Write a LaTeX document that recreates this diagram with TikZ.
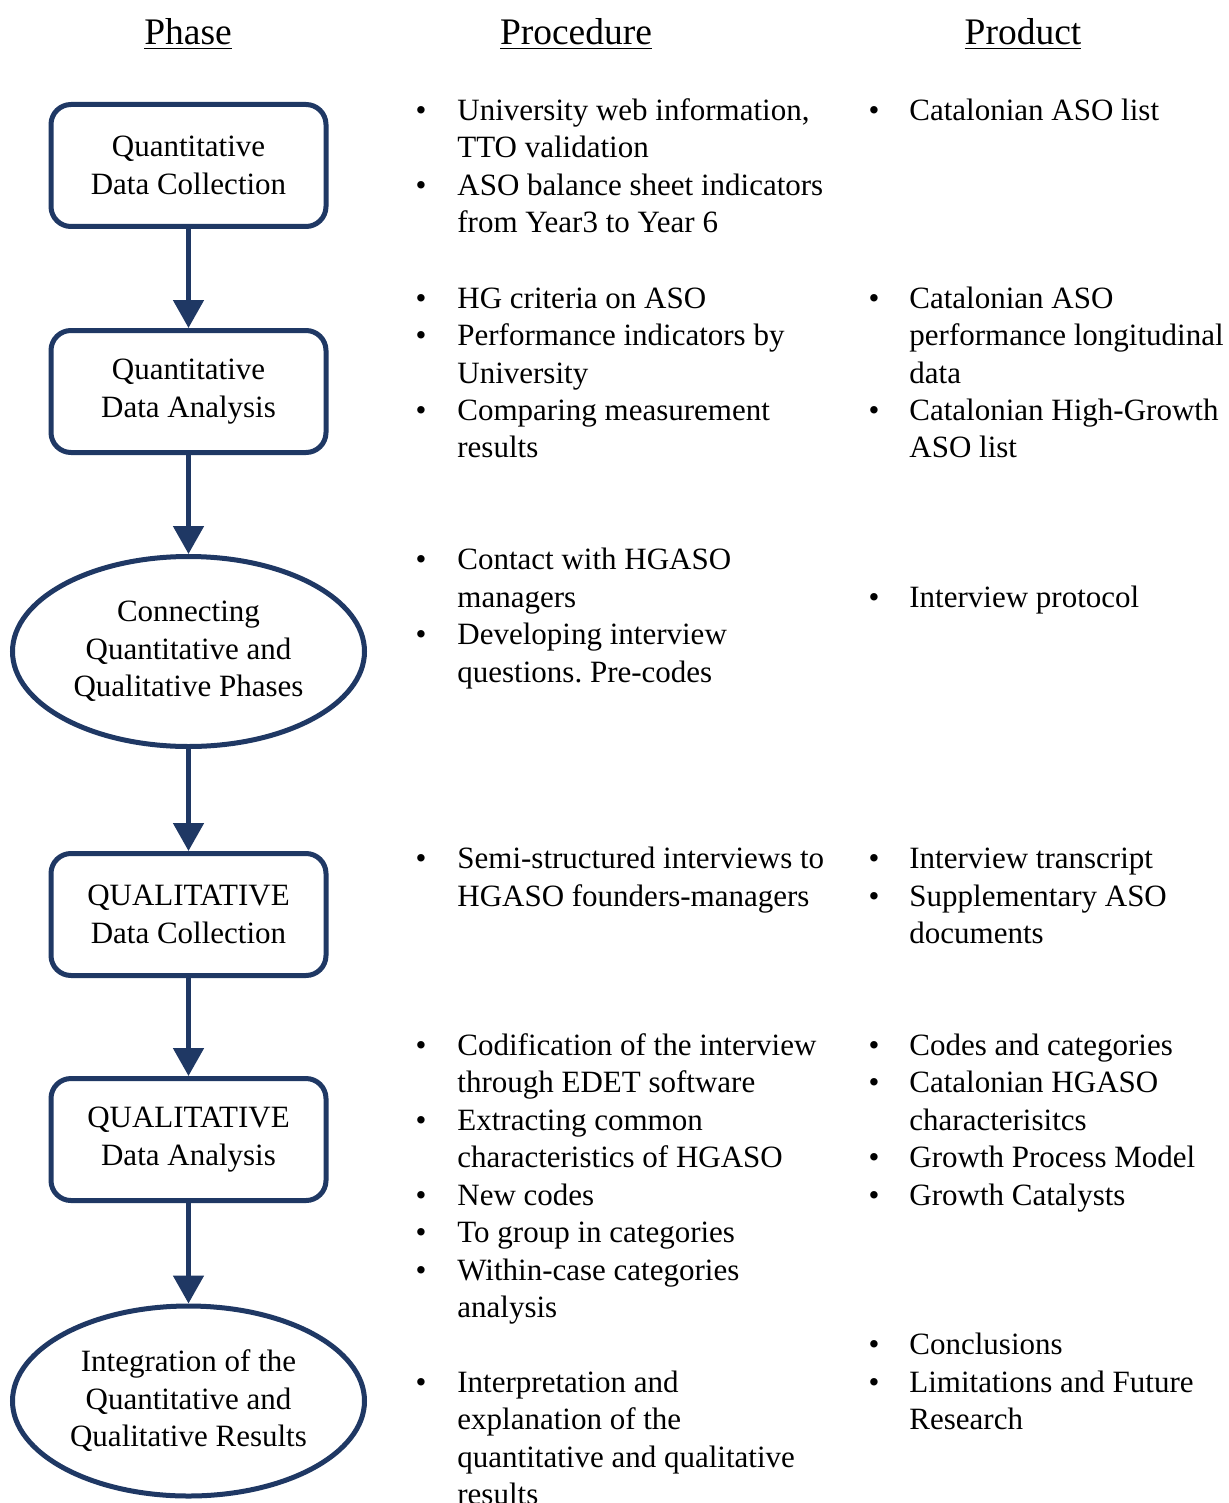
\documentclass[tikz,border=0pt]{standalone}
\usepackage{fontspec}
\setmainfont{Liberation Serif}
\usetikzlibrary{arrows.meta,shapes.geometric}
\definecolor{navy}{HTML}{1F3864}
\frenchspacing
\begin{document}
\begin{tikzpicture}[x=0.5pt,y=-0.5pt,
  phasebox/.style={draw=navy,line width=2.5pt,rounded corners=10pt,minimum width=137.5pt,minimum height=61pt,inner sep=0pt,align=center,font=\fontsize{15.5}{18.75}\selectfont,fill=white},
  phaseell/.style={draw=navy,line width=2.5pt,ellipse,minimum width=176pt,minimum height=95pt,inner sep=0pt,align=center,font=\fontsize{15.5}{18.75}\selectfont,fill=white},
  arr/.style={draw=navy,line width=2.5pt,-{Triangle[width=15pt,length=14pt]}},
  head/.style={anchor=base,inner sep=0pt,font=\fontsize{18.75}{22}\selectfont},
  txt/.style={anchor=base west,inner sep=0pt,font=\fontsize{15.5}{18.75}\selectfont},
  bul/.style={anchor=base,inner sep=0pt,font=\fontsize{15.5}{18.75}\selectfont}]
\useasboundingbox (0,0) rectangle (1229,1503);
\fill[white] (0,0) rectangle (1229,1503);
% headers
\node[head] (hphase) at (188,45) {\underline{Phase}};
\node[head] (hproc) at (576,45) {\underline{Procedure}};
\node[head] (hprod) at (1023,45) {\underline{Product}};
% phases
\node[phasebox] (b1) at (188.5,165.5) {Quantitative\\Data Collection};
\node[phasebox] (b2) at (188.5,391.5) {Quantitative\\Data Analysis};
\node[phaseell] (e1) at (188.5,651.5) {Connecting\\Quantitative and\\Qualitative Phases};
\node[phasebox] (b3) at (188.5,914.5) {QUALITATIVE\\Data Collection};
\node[phasebox] (b4) at (188.5,1139.5) {QUALITATIVE\\Data Analysis};
\node[phaseell] (e2) at (188.5,1401) {Integration of the\\Quantitative and\\Qualitative Results};
\draw[arr] (b1) -- (b2);
\draw[arr] (b2) -- (e1);
\draw[arr] (e1) -- (b3);
\draw[arr] (b3) -- (b4);
\draw[arr] (b4) -- (e2);
% bullets (procedure)
\foreach \nm/\y in {pa/110,pb/185,pc/297,pd/334,pe/409,pf/558,pg/633,ph/857,pi/1044,pj/1119,pk/1194,pl/1231,pm/1269,pn/1381}
  \node[bul] (bul\nm) at (421,\y+11) {•};
% bullets (product)
\foreach \nm/\y in {ra/110,rb/297,rc/409,rd/596,re/857,rf/895,rg/1044,rh/1081,ri/1156,rj/1194,rk/1343,rl/1381}
  \node[bul] (bul\nm) at (874,\y+11) {•};
% procedure lines
\foreach \nm/\y/\t in {
  pa1/110/{University web information,},
  pa2/147/{TTO validation},
  pb1/185/{ASO balance sheet indicators},
  pb2/222/{from Year3 to Year 6},
  pc1/297/{HG criteria on ASO},
  pd1/334/{Performance indicators by},
  pd2/372/{University},
  pe1/409/{Comparing measurement},
  pe2/446/{results},
  pf1/558/{Contact with HGASO},
  pf2/596/{managers},
  pg1/633/{Developing interview},
  pg2/671/{questions. Pre-codes},
  ph1/857/{Semi-structured interviews to},
  ph2/895/{HGASO founders-managers},
  pi1/1044/{Codification of the interview},
  pi2/1081/{through EDET software},
  pj1/1119/{Extracting common},
  pj2/1156/{characteristics of HGASO},
  pk1/1194/{New codes},
  pl1/1231/{To group in categories},
  pm1/1269/{Within-case categories},
  pm2/1306/{analysis},
  pn1/1381/{Interpretation and},
  pn2/1418/{explanation of the},
  pn3/1456/{quantitative and qualitative},
  pn4/1493/{results}}
  \node[txt] (\nm) at (457,\y+11) {\t};
% product lines
\foreach \nm/\y/\t in {
  ra1/110/{Catalonian ASO list},
  rb1/297/{Catalonian ASO},
  rb2/334/{performance longitudinal},
  rb3/372/{data},
  rc1/409/{Catalonian High-Growth},
  rc2/446/{ASO list},
  rd1/596/{Interview protocol},
  re1/857/{Interview transcript},
  rf1/895/{Supplementary ASO},
  rf2/932/{documents},
  rg1/1044/{Codes and categories},
  rh1/1081/{Catalonian HGASO},
  rh2/1119/{characterisitcs},
  ri1/1156/{Growth Process Model},
  rj1/1194/{Growth Catalysts},
  rk1/1343/{Conclusions},
  rl1/1381/{Limitations and Future},
  rl2/1418/{Research}}
  \node[txt] (\nm) at (909,\y+11) {\t};
\end{tikzpicture}
\end{document}
